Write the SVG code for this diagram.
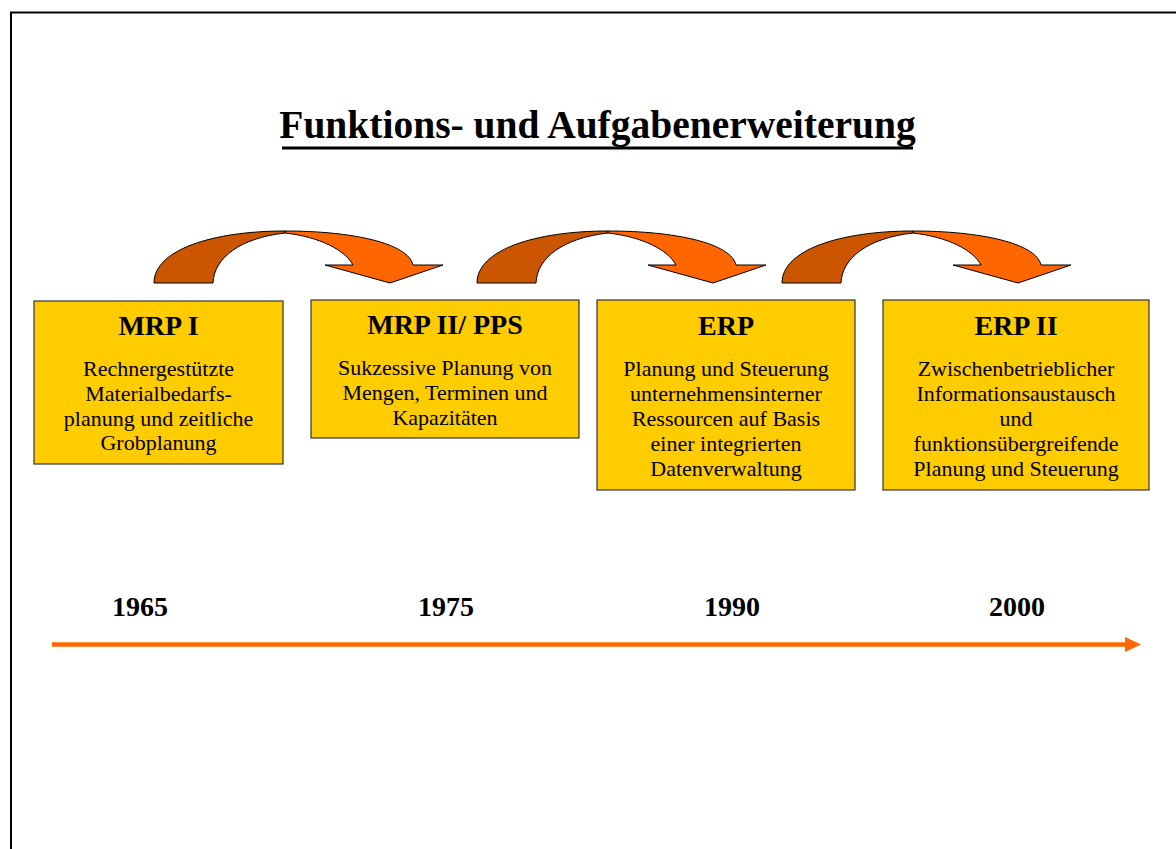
<svg xmlns="http://www.w3.org/2000/svg" width="1176" height="849" viewBox="0 0 1176 849">
<style>
.box{fill:#FFCC00;stroke:#333333;stroke-width:1.2}
.h{font-family:"Liberation Serif","Times New Roman",serif;font-weight:bold;font-size:28px;fill:#000;text-anchor:middle}
.b{font-family:"Liberation Serif","Times New Roman",serif;font-size:22px;fill:#000;text-anchor:middle}
.yr{font-family:"Liberation Serif","Times New Roman",serif;font-weight:bold;font-size:28px;fill:#000;text-anchor:middle}
.title{font-family:"Liberation Serif","Times New Roman",serif;font-weight:bold;font-size:39.5px;fill:#000;text-anchor:middle}
.dark{fill:#CC5500;stroke:#000;stroke-width:1}
.light{fill:#FF6600;stroke:#000;stroke-width:1}
</style>
<defs>
<g id="curved">
<path class="dark" d="M154,283 C154,250 212,231 285,231 L285,233 C240,238 214,258 213,283 Z"/>
<path class="light" d="M285,231 C352,231 408,243 413,265 L443,265 L390,283 L325,265 L353,265 C345,250 320,237 285,233 Z"/>
</g>
<marker id="tl" markerWidth="16" markerHeight="15" refX="0" refY="7.5" orient="auto" markerUnits="userSpaceOnUse">
<path d="M0,0 L16,7.5 L0,15 Z" fill="#FF6600"/>
</marker>
</defs>
<rect width="1176" height="849" fill="#FFFFFF"/>
<path d="M11,849 L11,12.5 L1176,12.5" fill="none" stroke="#000" stroke-width="2"/>
<g id="title">
<text class="title" x="597.5" y="138">Funktions- und Aufgabenerweiterung</text>
<rect x="282" y="146.5" width="631" height="3" fill="#000"/>
</g>
<g id="connectors">
<use href="#curved"/>
<use href="#curved" transform="translate(323,0)"/>
<use href="#curved" transform="translate(628,0)"/>
<line x1="52" y1="644.5" x2="1125" y2="644.5" stroke="#FF6600" stroke-width="4.5" marker-end="url(#tl)"/>
</g>
<g id="mrp1">
<rect class="box" x="34" y="301" width="249" height="163"/>
<text class="h" x="158.5" y="335">MRP I</text>
<text class="b" x="158.5" y="376">Rechnergestützte</text>
<text class="b" x="158.5" y="400.8">Materialbedarfs-</text>
<text class="b" x="158.5" y="425.6">planung und zeitliche</text>
<text class="b" x="158.5" y="450.4">Grobplanung</text>
</g>
<g id="mrp2">
<rect class="box" x="311" y="300" width="268" height="138"/>
<text class="h" x="445" y="334">MRP II/ PPS</text>
<text class="b" x="445" y="375">Sukzessive Planung von</text>
<text class="b" x="445" y="399.8">Mengen, Terminen und</text>
<text class="b" x="445" y="424.6">Kapazitäten</text>
</g>
<g id="erp">
<rect class="box" x="597" y="300" width="258" height="190"/>
<text class="h" x="726" y="335">ERP</text>
<text class="b" x="726" y="376">Planung und Steuerung</text>
<text class="b" x="726" y="401">unternehmensinterner</text>
<text class="b" x="726" y="426">Ressourcen auf Basis</text>
<text class="b" x="726" y="451">einer integrierten</text>
<text class="b" x="726" y="476">Datenverwaltung</text>
</g>
<g id="erp2">
<rect class="box" x="883" y="300" width="266" height="190"/>
<text class="h" x="1016" y="335">ERP II</text>
<text class="b" x="1016" y="376">Zwischenbetrieblicher</text>
<text class="b" x="1016" y="401">Informationsaustausch</text>
<text class="b" x="1016" y="426">und</text>
<text class="b" x="1016" y="451">funktionsübergreifende</text>
<text class="b" x="1016" y="476">Planung und Steuerung</text>
</g>
<g id="years">
<text class="yr" x="140" y="616">1965</text>
<text class="yr" x="446" y="616">1975</text>
<text class="yr" x="732" y="616">1990</text>
<text class="yr" x="1017" y="616">2000</text>
</g>
</svg>
